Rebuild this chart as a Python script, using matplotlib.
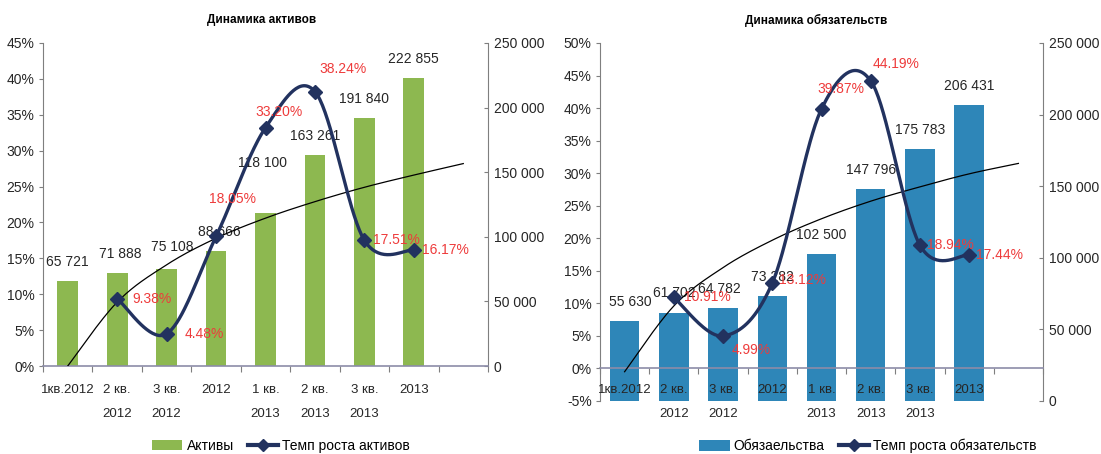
import numpy as np
import matplotlib
matplotlib.use("Agg")
import matplotlib.pyplot as plt
import matplotlib.transforms as mtransforms
from matplotlib.lines import Line2D
from matplotlib.patches import Patch

# ---------------- data ----------------
categories = ["1кв.2012", "2 кв.\n2012", "3 кв.\n2012", "2012",
              "1 кв.\n2013", "2 кв.\n2013", "3 кв.\n2013", "2013"]

assets = [65721, 71888, 75108, 88666, 118100, 163261, 191840, 222855]
assets_growth = [None, 9.38, 4.48, 18.05, 33.20, 38.24, 17.51, 16.17]
assets_trend = [0.0, 8.9, 14.1, 17.8, 20.6, 22.9, 24.9, 26.6, 28.2]

liabs = [55630, 61702, 64782, 73282, 102500, 147796, 175783, 206431]
liabs_growth = [None, 10.91, 4.99, 13.12, 39.87, 44.19, 18.94, 17.44]
liabs_trend = [-0.5, 9.6, 15.5, 19.7, 23.0, 25.7, 27.9, 29.9, 31.5]

left_yticks = [0, 5, 10, 15, 20, 25, 30, 35, 40, 45]
right_yticks = [-5, 0, 5, 10, 15, 20, 25, 30, 35, 40, 45, 50]
amount_ticks = [0, 50000, 100000, 150000, 200000, 250000]

# ---------------- style ----------------
FONT = ["Liberation Sans", "DejaVu Sans"]
plt.rcParams["font.family"] = FONT
GREEN = "#8DB850"
BLUE = "#2E86B8"
NAVY = "#22325F"
RED = "#EE3B3B"
TXT = "#262626"
AXC = "#7F7F7F"

W, H = 1101, 454
fig = plt.figure(figsize=(W / 100, H / 100), dpi=100)
fig.patch.set_facecolor("white")


def px_rect(x0, y_top, x1, y_bot):
    return [x0 / W, 1 - y_bot / H, (x1 - x0) / W, (y_bot - y_top) / H]


def smooth(xs, ys, n=40):
    pts = np.column_stack([xs, ys]).astype(float)
    out = [pts[0]]
    for i in range(len(pts) - 1):
        p0 = pts[i - 1] if i > 0 else pts[i]
        p1 = pts[i]
        p2 = pts[i + 1]
        p3 = pts[i + 2] if i + 2 < len(pts) else pts[i + 1]
        c1 = p1 + (p2 - p0) / 6.0
        c2 = p2 - (p3 - p1) / 6.0
        t = np.linspace(0, 1, n)[1:, None]
        seg = ((1 - t) ** 3) * p1 + 3 * ((1 - t) ** 2) * t * c1 + 3 * (1 - t) * t ** 2 * c2 + t ** 3 * p2
        out.extend(seg)
    out = np.array(out)
    return out[:, 0], out[:, 1]


def fmt_thousands(v):
    return f"{v:,}".replace(",", " ")


def panel(rect, title, title_x, bars, bar_color, bar_width, growth, trend,
          ylim, yticks, bar_lbl_off, rate_lbl_off, legend_labels, legend_x,
          axis_at_zero):
    ax = fig.add_axes(rect)
    ax2 = ax.twinx()
    ax.set_zorder(ax2.get_zorder() + 1)
    ax.patch.set_visible(False)

    x = np.arange(len(categories))
    ax2.bar(x, bars, width=bar_width, color=bar_color, zorder=2)
    ax2.set_ylim(0, 250000)
    ax2.set_yticks(amount_ticks)
    ax2.set_yticklabels([fmt_thousands(v) for v in amount_ticks])

    for xi, v, (dx, dy) in zip(x, bars, bar_lbl_off):
        ax2.annotate(fmt_thousands(v), (xi, v), xytext=(dx, dy),
                     textcoords="offset points", ha="center", va="center",
                     fontsize=10, color=TXT)

    # trend line (thin black)
    tx = np.arange(len(trend))
    sx, sy = smooth(tx, trend)
    ax.plot(sx, sy, color="black", lw=0.9, zorder=3)

    # growth rate line
    gx = [i for i, g in enumerate(growth) if g is not None]
    gy = [g for g in growth if g is not None]
    sx, sy = smooth(gx, gy)
    ax.plot(sx, sy, color=NAVY, lw=2.4, zorder=4, solid_capstyle="round")
    ax.plot(gx, gy, linestyle="none", marker="D", markersize=7,
            color=NAVY, zorder=5)
    for xi, g, (dx, dy) in zip(gx, gy, rate_lbl_off):
        ax.annotate(f"{g:.2f}%", (xi, g), xytext=(dx, dy),
                    textcoords="offset points", ha="center", va="center",
                    fontsize=10, color=RED, zorder=6)

    ax.set_xlim(-0.5, 8.5)
    ax.set_ylim(*ylim)
    ax.set_yticks(yticks)
    ax.set_yticklabels([f"{t}%" for t in yticks])
    ax.set_xticks(np.arange(-0.5, 9.0, 1.0))
    ax.set_xticklabels([])

    for a in (ax, ax2):
        a.spines["top"].set_visible(False)
        a.tick_params(labelsize=10, colors=TXT, length=3, width=0.8)
    ax2.spines["left"].set_visible(False)
    ax2.spines["bottom"].set_visible(False)
    ax.spines["right"].set_visible(False)
    ax.spines["left"].set_color(AXC)
    ax2.spines["right"].set_color(AXC)
    ax.spines["bottom"].set_color("#8C8CA8")
    ax.spines["bottom"].set_linewidth(1.2)
    ax.tick_params(axis="x", colors=AXC, length=4)
    ax.tick_params(axis="y", colors=AXC, labelcolor=TXT, direction="out", pad=3)
    ax2.tick_params(axis="y", colors=AXC, labelcolor=TXT, direction="in", pad=4)
    if axis_at_zero:
        ax.spines["bottom"].set_position(("data", 0))

    # category labels (two rows, fixed figure rows)
    trans = mtransforms.blended_transform_factory(ax.transData, fig.transFigure)
    for xi, lab in zip(x, categories):
        parts = lab.split("\n")
        for k, p in enumerate(parts):
            ax.text(xi, 1 - (390 + 24 * k) / H, p, transform=trans,
                    ha="center", va="center", fontsize=9.5, color=TXT,
                    zorder=7)

    fig.text(title_x / W, 1 - 20 / H, title, ha="center", va="center",
             fontsize=8.5, fontweight="bold", color="black")

    handles = [Patch(facecolor=bar_color, edgecolor="none"),
               Line2D([0], [0], color=NAVY, lw=3, marker="D", markersize=6)]
    fig.legend(handles, legend_labels, loc="center",
               bbox_to_anchor=(legend_x / W, 1 - 446 / H), ncol=2,
               frameon=False, fontsize=10, handlelength=2.2,
               handleheight=0.8, columnspacing=1.0, handletextpad=0.3)
    return ax, ax2


# left panel: Активы
panel(px_rect(43, 43, 488, 366), "Динамика активов", 262,
      assets, GREEN, 0.42, assets_growth, assets_trend,
      (0, 45), left_yticks,
      bar_lbl_off=[(0, 14), (2, 14), (4, 16), (2, 14), (-2, 36), (0, 14), (0, 14), (0, 14)],
      rate_lbl_off=[(25, 0), (27, 0), (12, 27), (10, 11), (20, 16), (23, 0), (23, 0)],
      legend_labels=["Активы", "Темп роста активов"], legend_x=281,
      axis_at_zero=False)

# right panel: Обязательства
panel(px_rect(600, 43, 1043, 401), "Динамика обязательств", 816,
      liabs, BLUE, 0.6, liabs_growth, liabs_trend,
      (-5, 50), right_yticks,
      bar_lbl_off=[(4, 14), (0, 14), (-3, 14), (0, 14), (0, 14), (0, 14), (0, 14), (0, 14)],
      rate_lbl_off=[(24, 0), (20, -10), (22, 2), (14, 14), (18, 12), (22, 0), (22, 0)],
      legend_labels=["Обязаельства", "Темп роста обязательств"], legend_x=868,
      axis_at_zero=True)

fig.savefig("out.png", dpi=100, facecolor="white")
